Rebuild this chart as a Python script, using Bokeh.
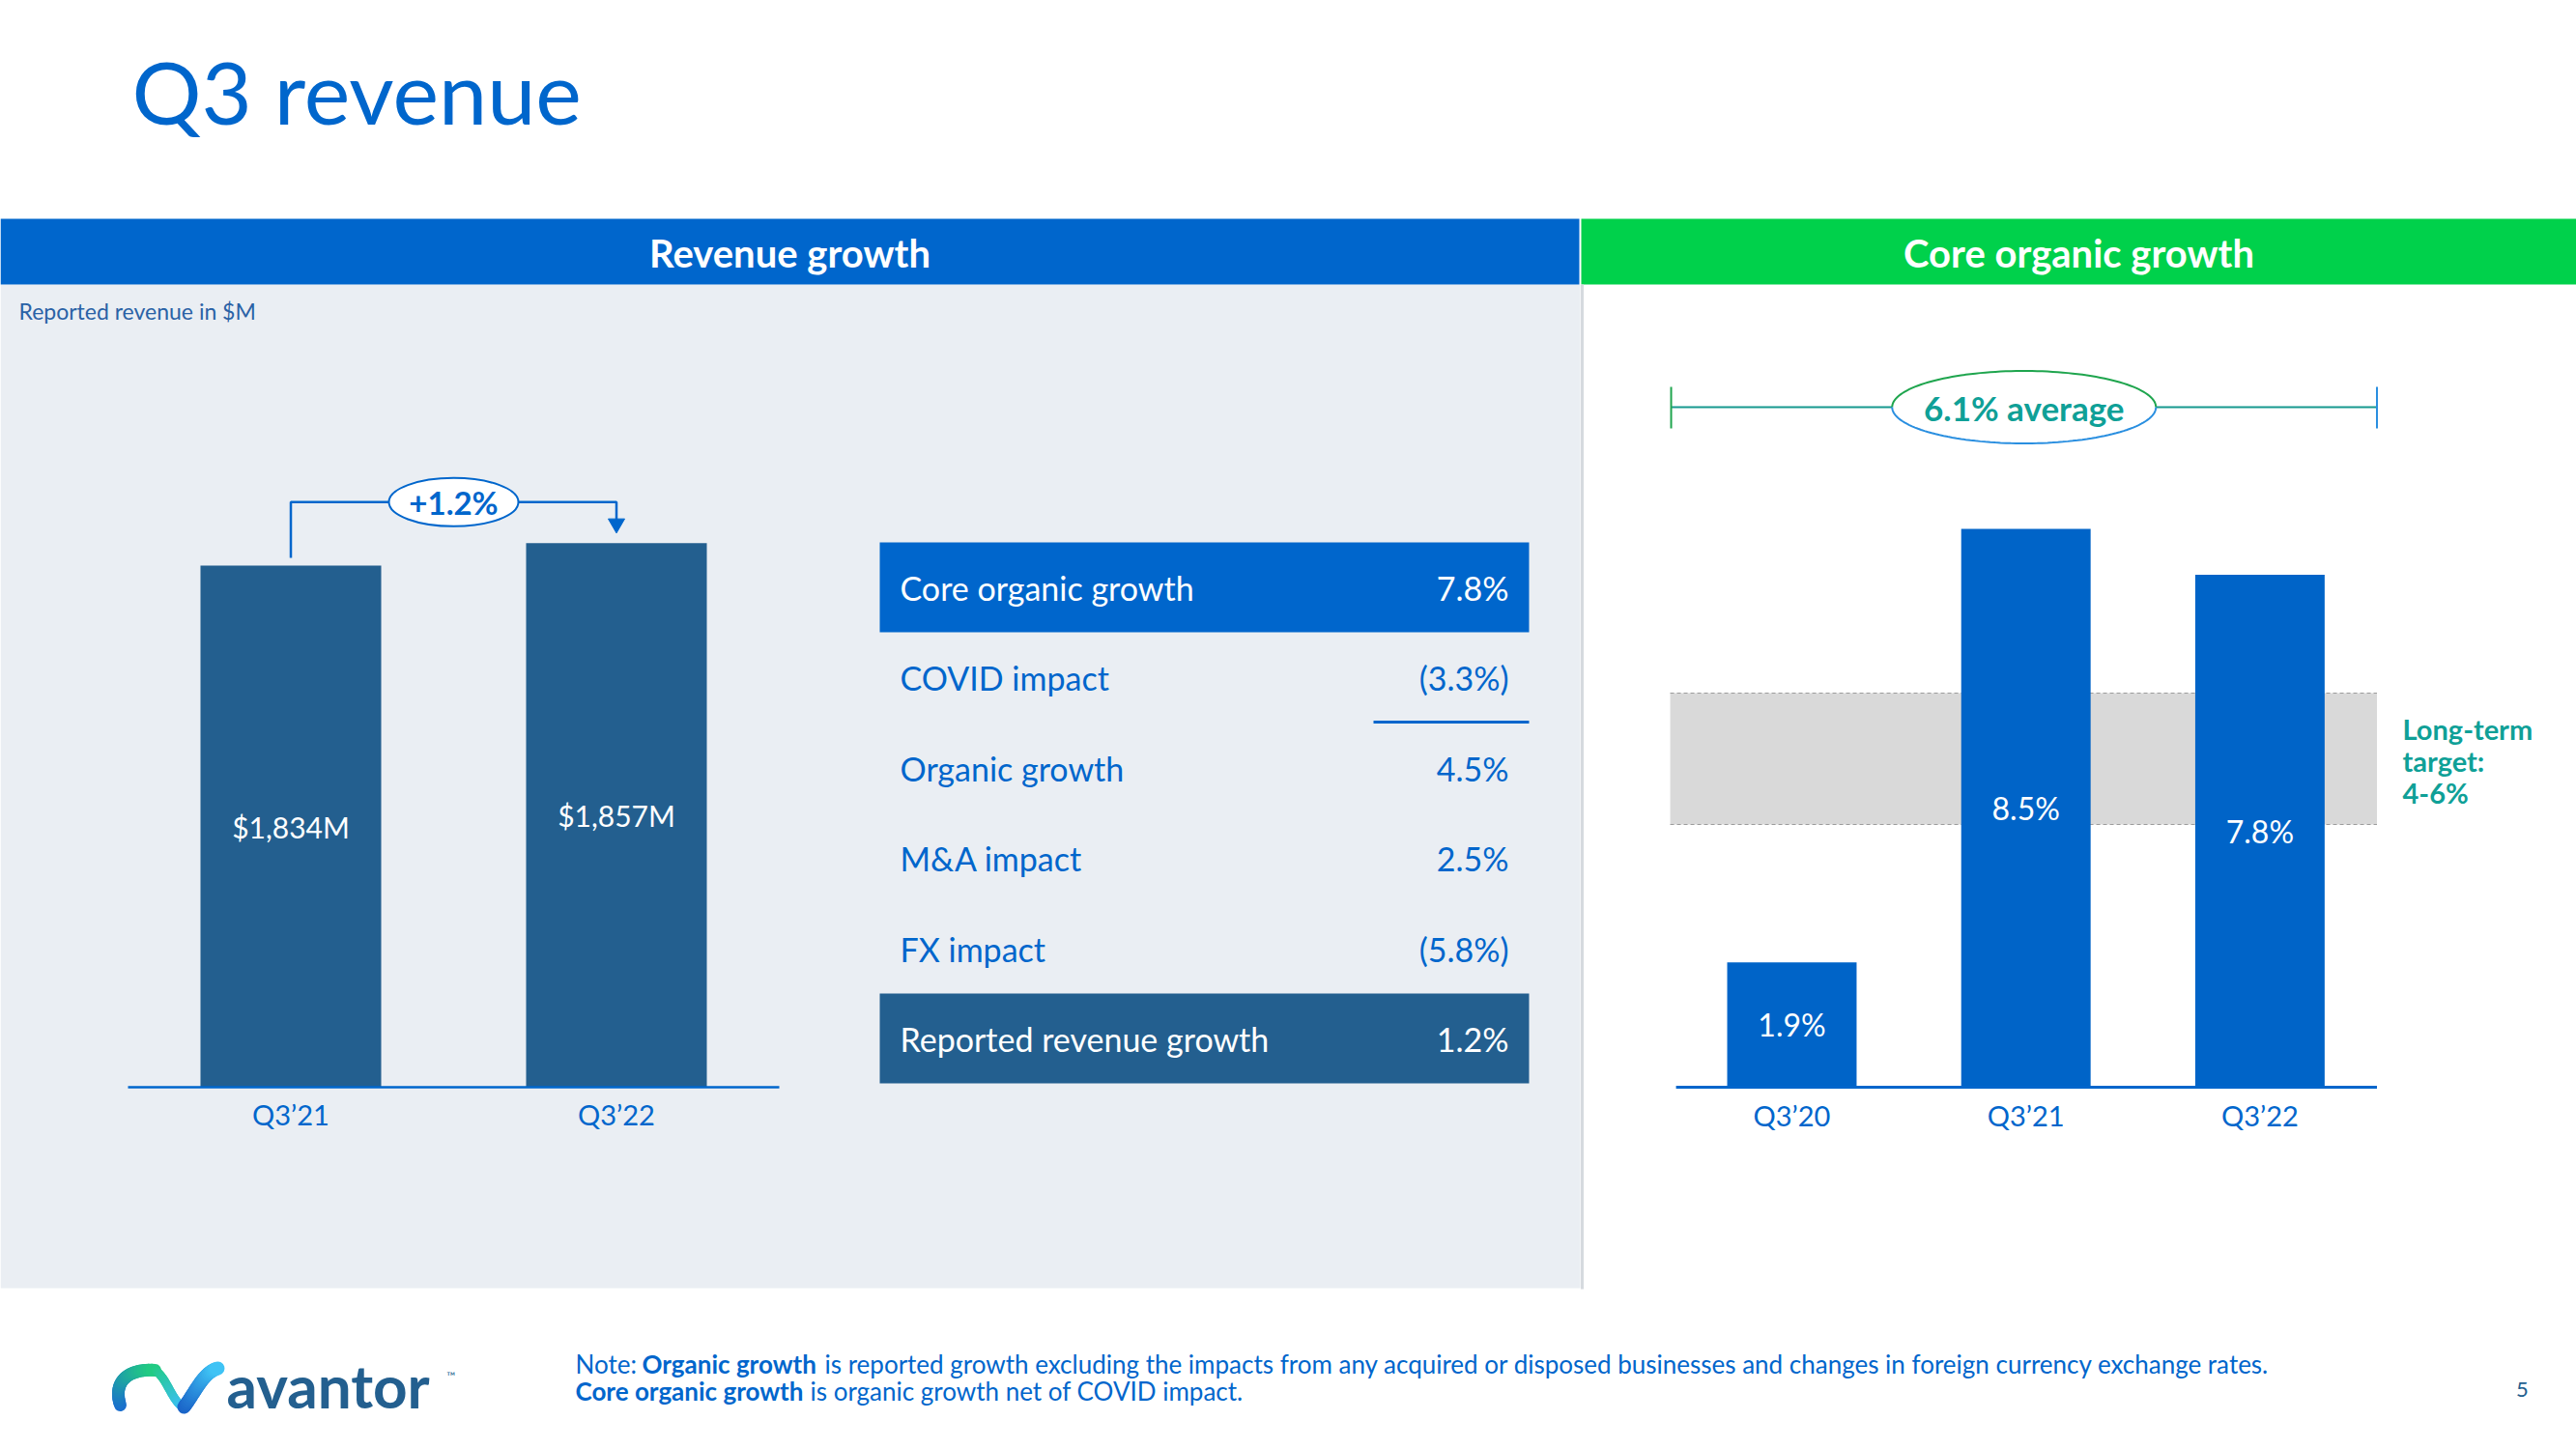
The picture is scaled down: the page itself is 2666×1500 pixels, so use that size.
import numpy as np
from bokeh.plotting import figure
from bokeh.models import Range1d
from bokeh.core.properties import value
from bokeh.embed import file_html
from bokeh.resources import INLINE

# ---------------- data ----------------
page_title = "Q3 revenue"
left_header = "Revenue growth"
right_header = "Core organic growth"
left_subtitle = "Reported revenue in $M"

rev_categories = ["Q3\u201921", "Q3\u201922"]
rev_values = [1834, 1857]            # reported revenue, $M
rev_change_label = "+1.2%"

bridge_items = ["Core organic growth", "COVID impact", "Organic growth",
                "M&A impact", "FX impact", "Reported revenue growth"]
bridge_values = [7.8, -3.3, 4.5, 2.5, -5.8, 1.2]   # %
bridge_highlight = {0: "#0066CC", 5: "#235F8F"}

core_categories = ["Q3\u201920", "Q3\u201921", "Q3\u201922"]
core_values = [1.9, 8.5, 7.8]        # core organic growth, %
target_low, target_high = 4, 6
average_label = "6.1% average"
target_lines = ["Long-term", "target:", "4-6%"]

note1 = [("Note:", "normal"), ("Organic growth", "bold"),
         ("is reported growth excluding the impacts from any acquired or disposed businesses and changes in foreign currency exchange rates.", "normal")]
note2 = [("Core organic growth", "bold"), ("is organic growth net of COVID impact.", "normal")]
page_number = "5"

# ---------------- style ----------------
W, H = 2666, 1500
BLUE = "#0066CC"
NAVY = "#235F8F"
GREEN = "#00D14B"
PANEL = "#EAEEF3"
TEAL = "#0FA097"
FONT = value("Lato")

p = figure(width=W, height=H, x_range=Range1d(0, W), y_range=Range1d(H, 0),
           output_backend="svg", toolbar_location=None, min_border=0,
           x_axis_location=None, y_axis_location=None)
p.grid.visible = False
p.outline_line_color = None
p.background_fill_color = "white"
p.border_fill_color = "white"


def xrange_for(v_at, px_at, ppu):
    start = v_at - px_at / ppu
    return Range1d(start, start + W / ppu)


def yrange_for(v_at, px_at, ppu):
    end = v_at + px_at / ppu
    return Range1d(end - H / ppu, end)


REV_BASE = 1300
p.extra_x_ranges = {"rx": xrange_for(0, 300.5, 337.0), "cx": xrange_for(0, 1854, 242.2)}
p.extra_y_ranges = {"ry": yrange_for(REV_BASE, 1125, 1.0112), "cy": yrange_for(0, 1125, 68.0)}


def txt(xs, ys, texts, size, color, align="left", baseline="middle", style="normal",
        xr="default", yr="default"):
    p.text(x=xs, y=ys, text=texts, text_font=FONT, text_font_size=f"{size}px",
           text_color=color, text_align=align, text_baseline=baseline,
           text_font_style=style, x_range_name=xr, y_range_name=yr)


# ---------------- page frame ----------------
p.quad(left=[0], right=[1635], top=[294], bottom=[1333], fill_color=PANEL, line_color=None)
p.quad(left=[0], right=[1634], top=[226], bottom=[294], fill_color=BLUE, line_color=None)
p.quad(left=[1636], right=[W], top=[226], bottom=[294], fill_color=GREEN, line_color=None)
p.segment(x0=[1637], y0=[294], x1=[1637], y1=[1334], line_color="#D6DADF", line_width=3)

txt([136], [93], [page_title], 90, BLUE)
txt([817, 2151], [261, 261], [left_header, right_header], 40, "white", align="center", style="bold")
txt([19], [321], [left_subtitle], 23, "#2A62A6")

# ---------------- left: revenue bars ----------------
rx = list(range(len(rev_values)))
p.vbar(x=rx, top=rev_values, bottom=REV_BASE, width=0.555, fill_color=NAVY, line_color=None,
       x_range_name="rx", y_range_name="ry")
p.segment(x0=[-0.5], y0=[REV_BASE], x1=[len(rx) - 0.5], y1=[REV_BASE], line_color=BLUE,
          line_width=2.5, x_range_name="rx", y_range_name="ry")
txt(rx, [(v + REV_BASE) / 2 for v in rev_values], [f"${v:,}M" for v in rev_values], 30, "white",
    align="center", xr="rx", yr="ry")
txt(rx, [1153] * len(rx), rev_categories, 29, BLUE, align="center", xr="rx")

# bracket with growth label
top_y = max(rev_values) + 42
p.multi_line(xs=[[0, 0, 1, 1]], ys=[[rev_values[0] + 8, top_y, top_y, rev_values[1] + 22]],
             line_color=BLUE, line_width=2.5, x_range_name="rx", y_range_name="ry")
p.scatter(x=[1], y=[rev_values[1] + 20], marker="inverted_triangle", size=17, fill_color=BLUE,
          line_color=BLUE, x_range_name="rx", y_range_name="ry")
p.ellipse(x=[0.5], y=[top_y], width=134, height=50, width_units="screen", height_units="screen",
          fill_color="white", line_color=BLUE, line_width=2, x_range_name="rx", y_range_name="ry")
txt([0.5], [top_y], [rev_change_label], 33, BLUE, align="center", style="bold", xr="rx", yr="ry")

# ---------------- middle: growth bridge table ----------------
ROW0, ROWH = 561, 93.4
for i, c in bridge_highlight.items():
    p.quad(left=[910], right=[1582], top=[ROW0 + i * ROWH], bottom=[ROW0 + i * ROWH + 93],
           fill_color=c, line_color=None)
row_c = [ROW0 + i * ROWH + 47 for i in range(len(bridge_items))]
row_col = ["white" if i in bridge_highlight else BLUE for i in range(len(bridge_items))]
val_txt = [f"{v:.1f}%" if v >= 0 else f"({abs(v):.1f}%)" for v in bridge_values]
for i in range(len(bridge_items)):
    txt([931], [row_c[i]], [bridge_items[i]], 34, row_col[i])
    txt([1561], [row_c[i]], [val_txt[i]], 34, row_col[i], align="right")
p.segment(x0=[1421], y0=[747], x1=[1582], y1=[747], line_color=BLUE, line_width=3)

# ---------------- right: core organic growth ----------------
cxs = list(range(len(core_values)))
n = len(cxs)
p.quad(left=[-0.52], right=[n - 0.5], bottom=[target_low], top=[target_high], fill_color="#D9D9D9",
       line_color=None, x_range_name="cx", y_range_name="cy")
p.multi_line(xs=[[-0.52, n - 0.5], [-0.52, n - 0.5]], ys=[[target_low] * 2, [target_high] * 2],
             line_color="#9C9C9C", line_width=1, line_dash="4 3", x_range_name="cx", y_range_name="cy")
p.vbar(x=cxs, top=core_values, bottom=0, width=0.553, fill_color="#0064C8", line_color=None,
       x_range_name="cx", y_range_name="cy")
p.segment(x0=[-0.495], y0=[0], x1=[n - 0.5], y1=[0], line_color=BLUE, line_width=3,
          x_range_name="cx", y_range_name="cy")
txt(cxs, [v / 2 for v in core_values], [f"{v:.1f}%" for v in core_values], 32, "white",
    align="center", xr="cx", yr="cy")
txt(cxs, [1154] * n, core_categories, 29, BLUE, align="center", xr="cx")

# average bracket
AVG_Y = 421
ax0, ax1 = -0.516, n - 0.5
p.segment(x0=[ax0], y0=[AVG_Y], x1=[ax1], y1=[AVG_Y], line_color="#17998F", line_width=2,
          x_range_name="cx")
p.segment(x0=[ax0, ax1], y0=[400, 400], x1=[ax0, ax1], y1=[443, 443],
          line_color=["#1FA54E", "#2A8FE0"], line_width=2, x_range_name="cx")
acx = (ax0 + ax1) / 2
p.ellipse(x=[acx], y=[AVG_Y], width=273, height=75, width_units="screen", height_units="screen",
          fill_color="white", line_color=None, x_range_name="cx")
# two-tone outline (green top, blue bottom)
cx_px = 1854 + acx * 242.2
th = np.linspace(0, np.pi, 80)
p.line(x=cx_px + 136.5 * np.cos(th), y=AVG_Y - 37.5 * np.sin(th), line_color="#1FA54E", line_width=2)
p.line(x=cx_px + 136.5 * np.cos(th), y=AVG_Y + 37.5 * np.sin(th), line_color="#2A8FE0", line_width=2)
txt([acx], [AVG_Y], [average_label], 35, TEAL, align="center", style="bold", xr="cx")

txt([2486] * 3, [754, 787, 820], target_lines, 29, TEAL, style="bold")

# ---------------- footer ----------------
def grad_curve(pts, c0, c1, width):
    c0 = np.array([int(c0[i:i + 2], 16) for i in (1, 3, 5)])
    c1 = np.array([int(c1[i:i + 2], 16) for i in (1, 3, 5)])
    P = np.array(pts, dtype=float)
    t = np.linspace(0, 1, 25)
    B = ((1 - t) ** 3)[:, None] * P[0] + (3 * (1 - t) ** 2 * t)[:, None] * P[1] + \
        (3 * (1 - t) * t ** 2)[:, None] * P[2] + (t ** 3)[:, None] * P[3]
    cols = []
    for k in range(len(t) - 1):
        m = (t[k] + t[k + 1]) / 2
        c = (c0 * (1 - m) + c1 * m).astype(int)
        cols.append("#%02x%02x%02x" % tuple(c))
    p.segment(x0=B[:-1, 0], y0=B[:-1, 1], x1=B[1:, 0], y1=B[1:, 1], line_color=cols,
              line_width=width, line_cap="round")


grad_curve([(124, 1454), (116, 1430), (132, 1416), (160, 1418)], "#1B6ED0", "#22CC82", 13)
grad_curve([(160, 1418), (172, 1426), (176, 1446), (188, 1456)], "#22CC82", "#3BC0F0", 9)
grad_curve([(190, 1456), (202, 1440), (210, 1420), (225, 1416)], "#1A62C8", "#40C6F6", 14)
txt([234], [1433], ["avantor"], 62, NAVY, style="bold")
txt([462], [1424], ["\u2122"], 12, NAVY)

n1_x = [595, 664, 853]
for (s, st), x in zip(note1, n1_x):
    txt([x], [1411], [s], 26, BLUE, style=st)
n2_x = [595, 838]
for (s, st), x in zip(note2, n2_x):
    txt([x], [1439], [s], 26, BLUE, style=st)
txt([2610], [1438], [page_number], 22, NAVY, align="center")

open("out.html", "w").write(file_html(p, INLINE))
